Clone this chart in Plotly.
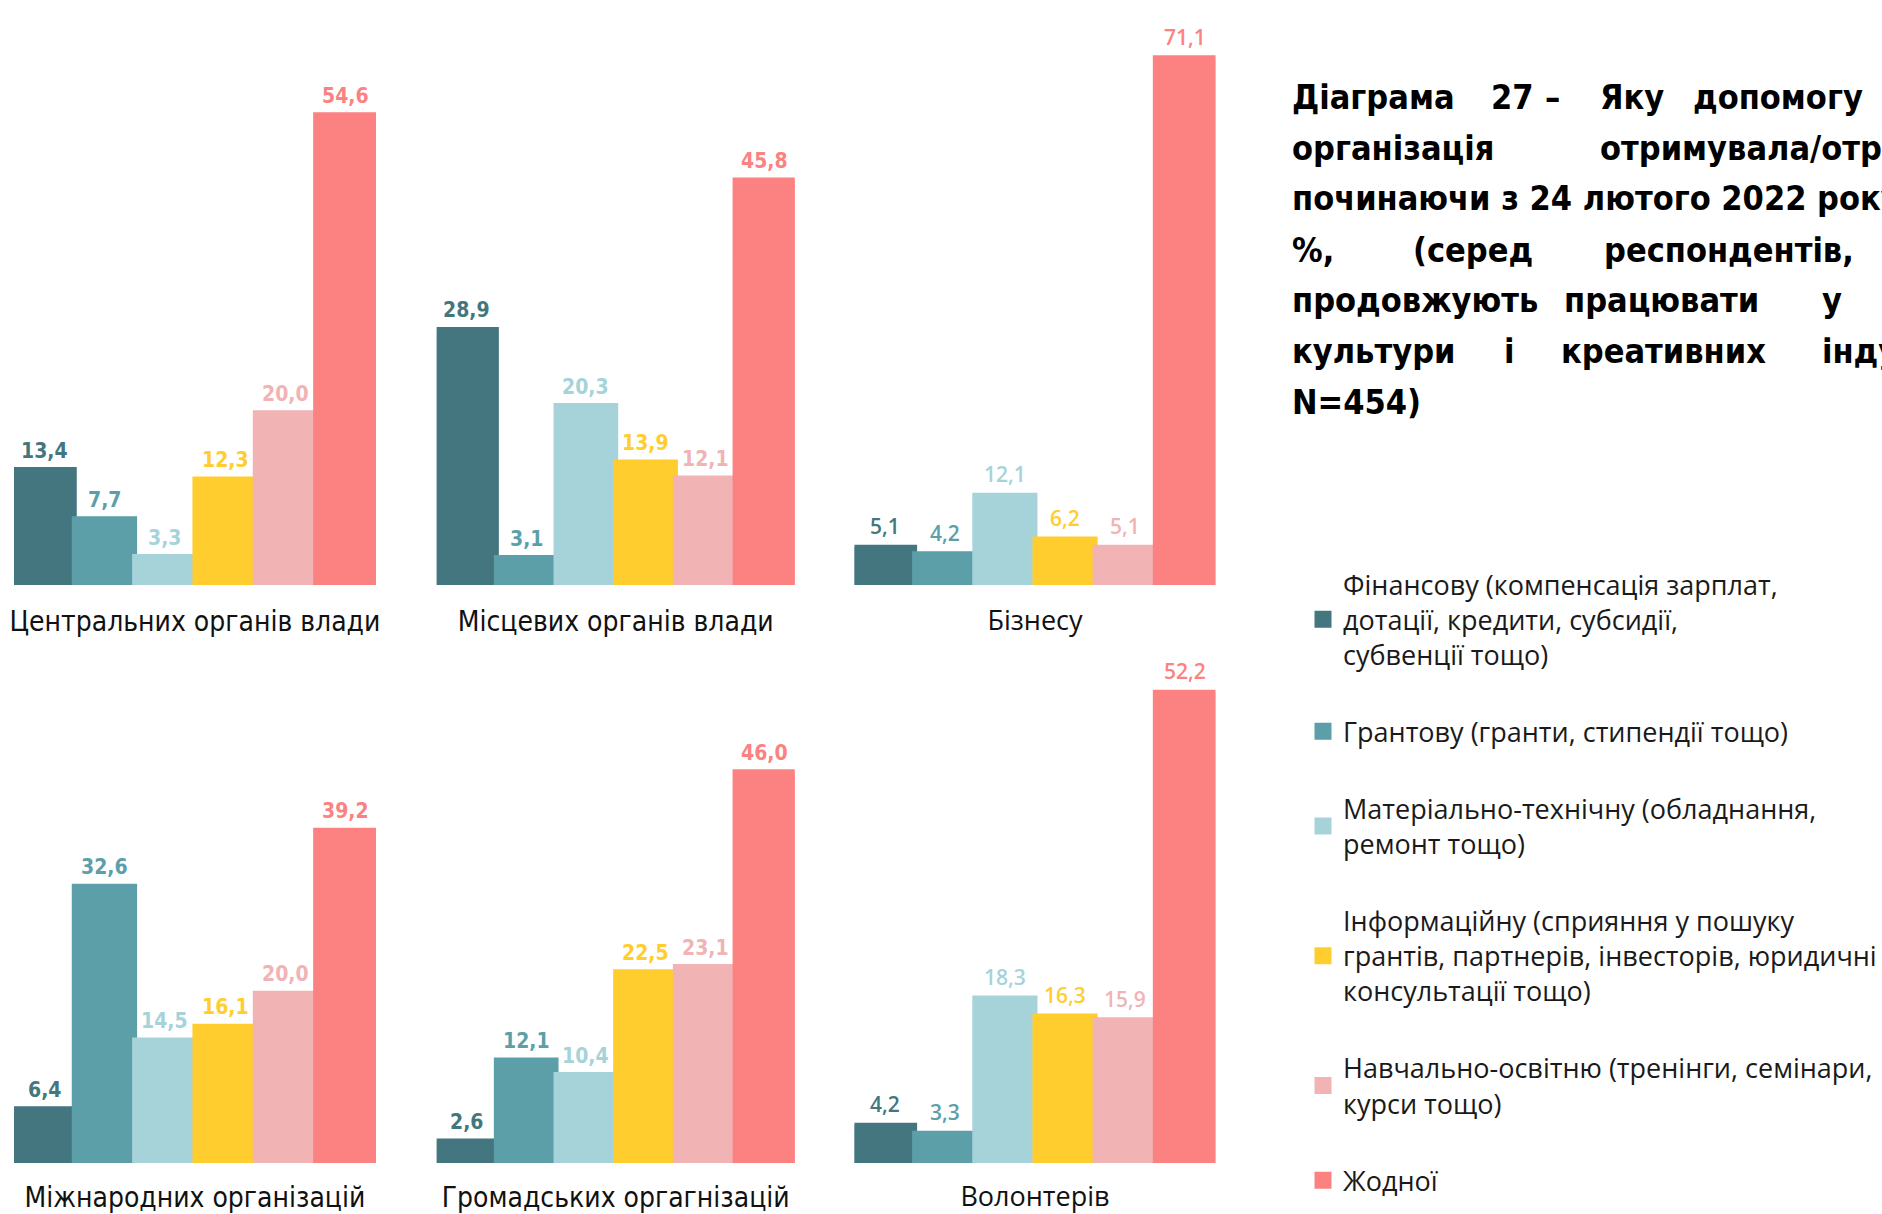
import plotly.graph_objects as go

# ---------------- data ----------------
groups = ["Центральних органів влади", "Місцевих органів влади", "Бізнесу",
          "Міжнародних організацій", "Громадських оргагнізацій", "Волонтерів"]

series_short = ["Фінансову", "Грантову", "Матеріально-технічну",
                "Інформаційну", "Навчально-освітню", "Жодної"]

series_labels = [
    "Фінансову (компенсація зарплат,<br>дотації, кредити, субсидії,<br>субвенції тощо)",
    "Грантову (гранти, стипендії тощо)",
    "Матеріально-технічну (обладнання,<br>ремонт тощо)",
    "Інформаційну (сприяння у пошуку<br>грантів, партнерів, інвесторів, юридичні<br>консультації тощо)",
    "Навчально-освітню (тренінги, семінари,<br>курси тощо)",
    "Жодної",
]

# values per series, in the order of `groups`
financial = [13.4, 28.9, 5.1, 6.4, 2.6, 4.2]
grants = [7.7, 3.1, 4.2, 32.6, 12.1, 3.3]
material = [3.3, 20.3, 12.1, 14.5, 10.4, 18.3]
information = [12.3, 13.9, 6.2, 16.1, 22.5, 16.3]
education = [20.0, 12.1, 5.1, 20.0, 23.1, 15.9]
none_help = [54.6, 45.8, 71.1, 39.2, 46.0, 52.2]

values = [financial, grants, material, information, education, none_help]

title_lines = [
    ["Діаграма", "27", "–", "Яку", "допомогу"],
    ["організація", "отримувала/отримує"],
    ["починаючи з 24 лютого 2022 року,"],
    ["%,", "(серед", "респондентів,"],
    ["продовжують", "працювати", "у"],
    ["культури", "і", "креативних", "індустрій,"],
    ["N=454)"],
]

# ---------------- style ----------------
W, H = 1882, 1214
colors = ["#43767f", "#5c9fa9", "#a6d3d9", "#ffcd2e", "#f1b3b4", "#fc8282"]
COND = "DejaVu Sans Condensed, Liberation Sans Narrow, sans-serif"
REG = "Open Sans, Noto Sans, sans-serif"
panel_font = [COND, COND, REG, COND, COND, REG]
panel_weight = [700, 700, 600, 700, 700, 600]

x_domains_px = [(14, 378), (439, 799), (859, 1222)]
rows_px = [(585, 20), (1163, 640)]
y_top = [65.6, 63.9, 76.2, 61.6, 61.5, 58.0]

title_x_px = [
    [1297, 1497, 1551, 1607, 1700],
    [1297, 1607],
    [1297],
    [1297, 1419, 1611],
    [1297, 1570, 1830],
    [1297, 1510, 1567, 1830],
    [1297],
]
title_y_px = [97, 148, 198, 250, 300, 351, 402]


def fmt(v):
    return f"{v:.1f}".replace(".", ",")


fig = go.Figure()
annotations = []

for g in range(6):
    r, c = divmod(g, 3)
    sfx = "" if g == 0 else str(g + 1)
    for s in range(6):
        fig.add_trace(go.Bar(
            x=[series_short[s]], y=[values[s][g]],
            name=series_labels[s], legendgroup=series_short[s],
            showlegend=(g == 0), width=1,
            marker=dict(color=colors[s], line=dict(color=colors[s], width=5)),
            xaxis="x" + sfx, yaxis="y" + sfx,
            hovertemplate=groups[g] + "<br>" + series_short[s] + ": %{y}<extra></extra>",
        ))
        annotations.append(dict(
            x=series_short[s], y=values[s][g], xref="x" + sfx, yref="y" + sfx,
            text=fmt(values[s][g]), showarrow=False, yanchor="bottom",
            xanchor="center", yshift=5,
            font=dict(family=panel_font[g], size=21, color=colors[s],
                      weight=panel_weight[g]),
        ))
    x0, x1 = x_domains_px[c]
    yb, yt = rows_px[r]
    fig.update_layout(**{
        "xaxis" + sfx: dict(
            domain=[x0 / W, x1 / W], range=[-0.5, 5.5], type="category",
            categoryorder="array", categoryarray=series_short,
            showticklabels=False, showgrid=False, zeroline=False, showline=False,
            ticks="", fixedrange=True, anchor="y" + sfx,
            title=dict(text=groups[g], standoff=26,
                       font=dict(family=panel_font[g], size=28 if panel_font[g] == COND else 27,
                                 color="#111111")),
        ),
        "yaxis" + sfx: dict(
            domain=[1 - yb / H, 1 - yt / H], range=[0, y_top[g]],
            visible=False, fixedrange=True, anchor="x" + sfx,
        ),
    })

for li, words in enumerate(title_lines):
    for wi, word in enumerate(words):
        annotations.append(dict(
            x=title_x_px[li][wi] / W, y=1 - title_y_px[li] / H,
            xref="paper", yref="paper", xanchor="left", yanchor="middle",
            text=word, showarrow=False,
            font=dict(family=COND, size=34, color="#000000", weight=700),
        ))

fig.update_layout(
    width=W, height=H,
    margin=dict(l=0, r=0, t=0, b=0),
    paper_bgcolor="white", plot_bgcolor="white",
    barmode="overlay",
    annotations=annotations,
    showlegend=True,
    legend=dict(
        x=1310 / W, y=1 - 560 / H, xanchor="left", yanchor="top",
        traceorder="grouped", tracegroupgap=39, valign="middle",
        font=dict(family=REG, size=27, color="#1a1a1a"),
        bgcolor="rgba(0,0,0,0)",
    ),
)

fig.write_html("out.html",
               config={"displayModeBar": False},
               post_script="document.body.style.margin='0';document.body.style.overflow='hidden';")
